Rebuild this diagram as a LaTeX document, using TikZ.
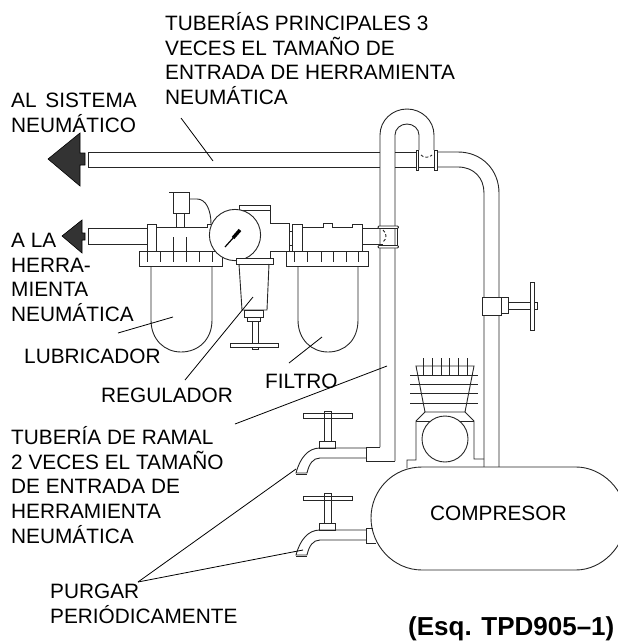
\documentclass[tikz,border=0pt]{standalone}
\usepackage{fontspec}
\setmainfont{Liberation Sans}
\newcommand{\firstln}{\rule{0pt}{20pt}}
\tikzset{
  ln/.style={line width=0.9pt,black!85,line join=miter},
  lead/.style={line width=0.8pt,black},
  lbl/.style={anchor=north west,inner sep=0pt,align=left,font=\fontsize{20.8}{24.8}\selectfont},
  dk/.style={fill=black!80,draw=black,line width=0.6pt}
}
\begin{document}
\begin{tikzpicture}[x=1pt,y=-1pt]
\useasboundingbox (0,0) rectangle (618,643);
% main line
\draw[dk] (48,159)--(80,133)--(80,153)--(85,153)--(85,165)--(80,165)--(80,186)--cycle;
\draw[ln] (380,152)--(88,152)--(88,167)--(380,167);
\draw[ln] (395,152)--(417,152) (395,167)--(417,167);
\draw[ln] (417,167)--(436,167);
\draw[ln,fill=white] (416,150) rectangle (418.5,170);
\draw[ln,fill=white] (434.5,150) rectangle (437,170);
\draw[ln,densely dashed] (421,155) .. controls (423,158) and (430,158) .. (432,155);
\draw[ln] (437,152)--(458,152) .. controls (482,152) and (499,170) .. (499,193)--(499,467);
\draw[ln] (437,167)--(458,167) .. controls (474,167) and (484,178) .. (484,193)--(484,467);
% riser
\draw[ln] (380,447)--(380,135) arc[start angle=180,end angle=360,x radius=27,y radius=26]--(434,150);
\draw[ln] (395,461)--(395,135) arc[start angle=180,end angle=360,x radius=12,y radius=11]--(419,150);
% valve on the riser to the tank
\draw[ln,fill=white] (482,297) rectangle (501,315);
\draw[ln,fill=white] (501,297) rectangle (508,313);
\draw[ln,fill=white] (508,302) rectangle (537,309);
\draw[ln,fill=white] (530,282) rectangle (534,330);
% branch tee
\draw[ln] (362,228)--(383,228) (362,244)--(383,244);
\draw[ln,densely dashed] (383,230) .. controls (387,233) and (387,239) .. (383,242);
\draw[ln] (397,228)--(397,245);
\draw[ln,fill=white,rounded corners=1pt] (378,226) rectangle (398.5,228.5);
\draw[ln,fill=white,rounded corners=1pt] (378,245.5) rectangle (398.5,248);
% lower line
\draw[dk] (62,236)--(82,220)--(82,233)--(85,233)--(85,240)--(82,240)--(82,253)--cycle;
\draw[ln] (147,228)--(88,228)--(88,244)--(147,244);
% lubricator
\draw[ln] (147,224) rectangle (156,251);
\draw[ln] (156,227)--(207,227)--(207,224)--(212,224);
\draw[ln] (156,227)--(156,244);
\draw[ln] (139,251) rectangle (222,266);
\foreach \x in {147,160,173,186,199,212} \draw[ln] (\x,251)--(\x,262);
\draw[ln] (173,237)--(173,251) (186,237)--(186,251);
\draw[ln] (151,266)--(151,320) .. controls (151,340) and (165,352) .. (181,352) .. controls (198,352) and (212,340) .. (212,320)--(212,266);
\draw[ln] (176,227)--(176,213)--(184,213)--(184,227);
\draw[ln] (169,192)--(190,192);
\draw[ln] (173,192)--(173,213)--(189,213)--(189,192);
\draw[ln] (189,199)--(197,199) .. controls (206,199) and (211,210) .. (211,224);
% regulator
\draw[ln] (239,210)--(239,205)--(270,205)--(270,223)--(289,223)--(289,251)--(270,251)--(270,258);
\draw[ln] (239,210)--(270,210);
\draw[ln] (292,224)--(292,251) (289,231)--(292,231) (289,245)--(292,245);
\draw[ln,fill=white] (235,235) circle[radius=25.6];
\draw[ln,fill=white] (236,258) rectangle (273,264);
\draw[ln] (239,264)--(242,310)--(267,310)--(269,264);
\draw[ln,fill=white] (244,310) rectangle (263,317);
\draw[ln,fill=white] (247,317) rectangle (260,321);
\draw[ln,fill=white] (252,321) rectangle (258,349);
\draw[ln,fill=white] (230,343) rectangle (278,347);
\draw[ln] (252,347)--(258,347);
\draw[line width=1.2pt,black] (225,247)--(234,237);
\draw[line width=3.4pt,black] (233,238)--(240,230);
% filter
\draw[ln] (292,224) rectangle (302,251);
\draw[ln] (302,227)--(323,227)--(323,223)--(332,223)--(332,227)--(352,227)--(352,224)--(362,224)--(362,251);
\draw[ln] (302,227)--(302,244);
\draw[ln] (286,251) rectangle (368,266);
\foreach \x in {294,307,321,333,346,358} \draw[ln] (\x,251)--(\x,262);
\draw[ln] (298,266)--(298,320) .. controls (298,340) and (312,352) .. (328,352) .. controls (345,352) and (358,340) .. (358,320)--(358,266);
% compressor pump
\draw[ln] (416,366)--(474,366)--(465,412)--(425,412)--cycle;
\foreach \y in {375,384,393,403} \draw[ln] (410,\y)--(478,\y);
\foreach \x in {423,432,441,449,458,467} \draw[ln] (\x,358)--(\x,375);
\draw[ln] (407,468)--(407,460)--(416,460)--(416,421)--(425,412) (465,412)--(474,421)--(474,459)--(484,459);
\draw[ln] (416,421)--(474,421);
\draw[ln,fill=white] (445,439) circle[radius=23];
% tank
\draw[ln,fill=white] (422,467)--(576,467) .. controls (602,467) and (626,490) .. (626,518) .. controls (626,546) and (602,570) .. (576,570)--(422,570) .. controls (393,570) and (371,545) .. (371,518) .. controls (371,490) and (393,467) .. (422,467)--cycle;
% faucets
\draw[ln] (380,447)--(366,447)--(366,461)--(395,461);
\draw[ln] (366,448)--(320,448) .. controls (308,448) and (300,458) .. (296,473)--(307,473) .. controls (309,464) and (313,458) .. (320,458)--(366,458);
\draw[ln] (296,474)--(307,474);
\draw[ln] (319,441) rectangle (335,448);
\draw[ln] (324,441)--(324,411)--(331,411)--(331,441);
\draw[ln,fill=white] (303,413) rectangle (352,418);
\draw[ln] (324,413)--(324,418) (331,413)--(331,418);
\draw[ln] (366,530)--(320,530) .. controls (308,530) and (300,540) .. (296,555)--(307,555) .. controls (309,546) and (313,540) .. (320,540)--(366,540);
\draw[ln] (296,556)--(307,556);
\draw[ln] (319,523) rectangle (335,530);
\draw[ln] (324,523)--(324,493)--(331,493)--(331,523);
\draw[ln,fill=white] (303,496) rectangle (352,500);
\draw[ln] (324,496)--(324,500) (331,496)--(331,500);
\draw[ln] (373,528)--(366,528)--(366,543)--(376,543);
% labels
\node[lbl] (t1) at (165,10) {\firstln TUBERÍAS PRINCIPALES 3\\VECES EL TAMAÑO DE\\ENTRADA DE HERRAMIENTA\\NEUMÁTICA};
\node[lbl] (t2) at (11,87) {\firstln AL\hspace{3pt} SISTEMA\\NEUMÁTICO};
\node[lbl] (t3) at (11,227) {\firstln A LA\\HERRA-\\MIENTA\\NEUMÁTICA};
\node[lbl] (t4) at (24,343) {\firstln LUBRICADOR};
\node[lbl] (t5) at (101,382) {\firstln REGULADOR};
\node[lbl] (t6) at (265,368) {\firstln FILTRO};
\node[lbl] (t7) at (11,424) {\firstln TUBERÍA DE RAMAL\\2 VECES EL TAMAÑO\\DE ENTRADA DE\\HERRAMIENTA\\NEUMÁTICA};
\node[lbl] (t8) at (430,500) {\firstln COMPRESOR};
\node[lbl] (t9) at (50,578) {\firstln PURGAR\\PERIÓDICAMENTE};
\node[lbl,font=\fontsize{26}{30}\selectfont\bfseries] (t10) at (408,615) {\firstln (Esq. TPD905–1)};
% leaders
\coordinate (p) at (138,582);
\draw[lead] (181,118)--(213,161);
\draw[lead] (118,333)--(173,317);
\draw[lead] (185,380)--(253,297);
\draw[lead] (289,363)--(322,337);
\draw[lead] (235,424)--(387,366);
\draw[lead] (p)--(296,469);
\draw[lead] (p)--(303,550);
\end{tikzpicture}
\end{document}
